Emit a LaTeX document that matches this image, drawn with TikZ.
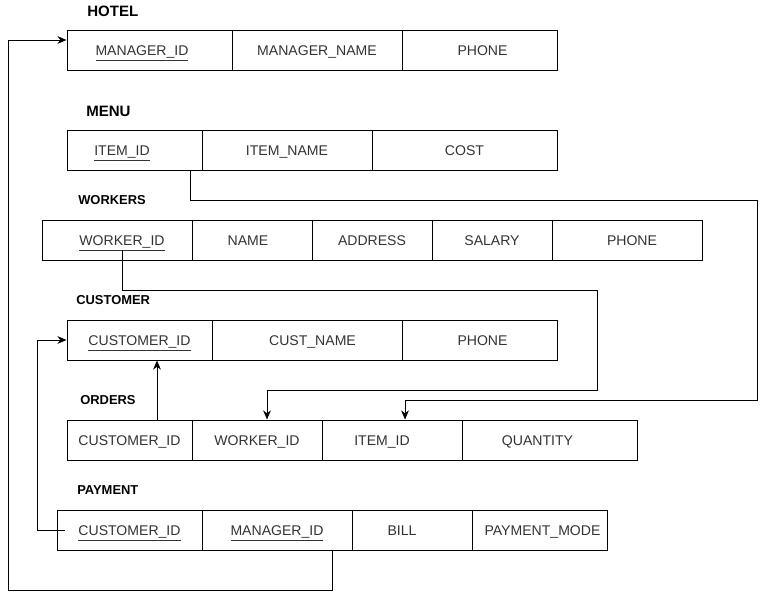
\documentclass[tikz,border=0pt]{standalone}
\usepackage{fontspec}
\setmainfont{Liberation Sans}
\usetikzlibrary{calc, positioning, arrows.meta}

\tikzset{
  cell/.style={draw, line width=0.7pt, minimum width=#1*0.025cm, minimum height=1cm,
    inner sep=0pt, text height=8.5pt, text depth=0pt, text=black!80,
    font=\fontsize{10}{12}\selectfont},
  toleft/.style={execute at end node={\hspace*{#1}}},
  toright/.style={execute at begin node={\hspace*{#1}}},
  bigtitle/.style={anchor=west, inner sep=0pt, font=\fontsize{10.7}{12}\selectfont\bfseries},
  title/.style={anchor=west, inner sep=0pt, font=\fontsize{9.2}{11}\selectfont\bfseries},
  link/.style={line width=0.7pt}
}

\begin{document}
\begin{tikzpicture}[x=0.025cm, y=-0.025cm, >={Stealth[length=6.5pt,width=5.5pt]}]
        \useasboundingbox (0,0) rectangle (766,599);

        % HOTEL
        \node[bigtitle] (hotel) at (87,11) {HOTEL};
        \node[cell=165, toleft=0.375cm] (h1) at (149.5,50) {\underline{MANAGER\_ID}};
        \node[cell=170] (h2) at (317,50) {MANAGER\_NAME};
        \node[cell=155, toright=0.15cm] (h3) at (479.5,50) {PHONE};

        % MENU
        \node[bigtitle] (menu) at (86,111) {MENU};
        \node[cell=135, toleft=0.625cm] (m1) at (134.5,150) {\underline{ITEM\_ID}};
        \node[cell=170] (m2) at (287,150) {ITEM\_NAME};
        \node[cell=185] (m3) at (464.5,150) {COST};

        % WORKERS
        \node[title] (workers) at (78,200.5) {WORKERS};
        \node[cell=150, toright=0.25cm] (w1) at (117,240) {\underline{WORKER\_ID}};
        \node[cell=120, toleft=0.2cm] (w2) at (252,240) {NAME};
        \node[cell=120] (w3) at (372,240) {ADDRESS};
        \node[cell=120] (w4) at (492,240) {SALARY};
        \node[cell=150, toright=0.25cm] (w5) at (627,240) {PHONE};

        % CUSTOMER
        \node[title] (customer) at (76,300.5) {CUSTOMER};
        \node[cell=145] (c1) at (139.5,340) {\underline{CUSTOMER\_ID}};
        \node[cell=190, toright=0.275cm] (c2) at (307,340) {CUST\_NAME};
        \node[cell=155, toright=0.15cm] (c3) at (479.5,340) {PHONE};

        % ORDERS
        \node[title] (orders) at (80,400) {ORDERS};
        \node[cell=125] (o1) at (129.5,440) {CUSTOMER\_ID};
        \node[cell=130] (o2) at (257,440) {WORKER\_ID};
        \node[cell=140, toleft=0.5cm] (o3) at (392,440) {ITEM\_ID};
        \node[cell=175, toleft=0.6cm] (o4) at (549.5,440) {QUANTITY};

        % PAYMENT
        \node[title] (payment) at (77,490.5) {PAYMENT};
        \node[cell=145] (p1) at (129.5,530) {\underline{CUSTOMER\_ID}};
        \node[cell=150] (p2) at (277,530) {\underline{MANAGER\_ID}};
        \node[cell=120, toleft=0.5cm] (p3) at (412,530) {BILL};
        \node[cell=135, toright=0.15cm] (p4) at (539.5,530) {PAYMENT\_MODE};

        % link ends
        \coordinate (mgrout) at ($(p2.south)+(55,0)$);
        \coordinate (mgrin) at ($(h1.west)+(0,-10)$);
        \coordinate (itemout) at ($(m1.south)+(55.5,0)$);
        \coordinate (itemin) at ($(o3.north)+(13,0)$);
        \coordinate (workout) at ($(w1.center)+(5,10)$);
        \coordinate (workin) at ($(o2.north)+(10,0)$);
        \coordinate (custout) at ($(o1.north)+(27.5,0)$);
        \coordinate (payout) at ($(p1.west)+(8,0)$);

        \draw[link, ->] (mgrout) |- (8,590) |- (mgrin);
        \draw[link, ->] (itemout) |- (757,200) |- (405,400) -- (itemin);
        \draw[link, ->] (workout) |- (597,290) |- (267,390) -- (workin);
        \draw[link, ->] (custout) -- (custout |- c1.south);
        \draw[link, ->] (payout) -- (37,530) |- (c1.west);
    \end{tikzpicture}
\end{document}
